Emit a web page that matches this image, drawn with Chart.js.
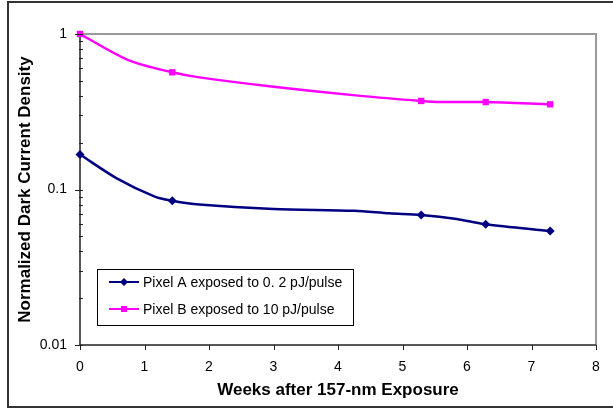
<!DOCTYPE html>
<html>
<head>
<meta charset="utf-8">
<script src="https://cdn.jsdelivr.net/npm/chart.js@4/dist/chart.umd.min.js"></script>
<style>
  html, body { margin: 0; padding: 0; background: #fff; }
  #wrap { width: 613px; height: 409px; }
</style>
</head>
<body>
<div id="wrap"><canvas id="grafico" width="613" height="409"></canvas></div>
<script>
// Dados (semanas x densidade normalizada)
const semanasA = [0, 0.57, 1.16, 1.43, 1.85, 3.0, 4.25, 4.8, 5.29, 5.84, 6.29, 7.29];
const pixelA   = [0.168, 0.118, 0.090, 0.0847, 0.080, 0.075, 0.073, 0.0703, 0.0686, 0.0646, 0.0597, 0.054];
const marcasA  = [0, 3, 8, 10, 11];

const semanasB = [0, 0.75, 1.43, 1.85, 3.0, 4.35, 5.29, 5.6, 6.29, 7.29];
const pixelB   = [1.0, 0.68, 0.567, 0.526, 0.458, 0.40, 0.371, 0.365, 0.365, 0.353];
const marcasB  = [0, 2, 6, 8, 9];

const labelA = 'Pixel A exposed to 0. 2 pJ/pulse';
const labelB = 'Pixel B exposed to 10 pJ/pulse';
const xTicks = [0, 1, 2, 3, 4, 5, 6, 7, 8];
const yTicks = [0.01, 0.1, 1];

const fonte = 'Arial, "Liberation Sans", sans-serif';

function pontos(xs, ys) { return xs.map((x, i) => ({ x: x, y: ys[i] })); }
function raios(n, marcas, r) { return Array.from({ length: n }, (_, i) => marcas.includes(i) ? r : 0); }

// moldura, borda da área do gráfico, ticks menores e legenda
const extras = {
    id: 'extras',
    beforeDraw(chart) {
        const ctx = chart.ctx, a = chart.chartArea;
        ctx.save();
        ctx.strokeStyle = '#9a9a9a';
        ctx.lineWidth = 2;
        ctx.beginPath();
        ctx.moveTo(a.left, a.top); ctx.lineTo(a.right, a.top); ctx.lineTo(a.right, a.bottom);
        ctx.stroke();
        // eixos
        ctx.strokeStyle = '#222';
        ctx.lineWidth = 1.5;
        ctx.beginPath();
        ctx.moveTo(a.left, a.top); ctx.lineTo(a.left, a.bottom); ctx.lineTo(a.right, a.bottom);
        ctx.stroke();
        ctx.restore();
    },
    afterDraw(chart) {
        const ctx = chart.ctx, a = chart.chartArea, y = chart.scales.y, x = chart.scales.x;
        ctx.save();
        // moldura externa
        ctx.strokeStyle = '#333';
        ctx.lineWidth = 2;
        ctx.strokeRect(8, 2, 620, 405);
        ctx.strokeStyle = '#222';
        ctx.lineWidth = 1;
        ctx.beginPath();
        [0.01, 0.1].forEach(dec => {
            for (let m = 2; m <= 9; m++) {
                const py = Math.round(y.getPixelForValue(dec * m)) + 0.5;
                ctx.moveTo(a.left - 1, py); ctx.lineTo(a.left + 3, py);
            }
        });
        yTicks.forEach(v => {
            const py = Math.round(y.getPixelForValue(v)) + 0.5;
            ctx.moveTo(a.left - 5, py); ctx.lineTo(a.left + 3, py);
        });
        xTicks.forEach(v => {
            const px = Math.round(x.getPixelForValue(v)) + 0.5;
            ctx.moveTo(px, a.bottom); ctx.lineTo(px, a.bottom + 5);
        });
        ctx.stroke();
        // legenda
        ctx.fillStyle = '#fff';
        ctx.fillRect(97.5, 269.5, 256, 56);
        ctx.strokeStyle = '#000';
        ctx.strokeRect(97.5, 269.5, 256, 56);
        ctx.font = '14px ' + fonte;
        ctx.textBaseline = 'middle';
        chart.data.datasets.forEach((ds, i) => {
            const ly = 282 + i * 27;
            ctx.strokeStyle = ds.borderColor;
            ctx.lineWidth = 2;
            ctx.beginPath(); ctx.moveTo(109, ly); ctx.lineTo(139, ly); ctx.stroke();
            ctx.fillStyle = ds.borderColor;
            if (i === 0) {
                ctx.beginPath();
                ctx.moveTo(124, ly - 4); ctx.lineTo(128, ly); ctx.lineTo(124, ly + 4); ctx.lineTo(120, ly);
                ctx.closePath(); ctx.fill();
            } else {
                ctx.fillRect(121, ly - 3, 6, 6);
            }
            ctx.fillStyle = '#000';
            ctx.fillText(ds.label, 143, ly + 1);
        });
        ctx.restore();
    }
};

new Chart(document.getElementById('grafico').getContext('2d'), {
    type: 'line',
    data: {
        datasets: [
            {
                label: labelA, data: pontos(semanasA, pixelA),
                borderColor: '#000080', backgroundColor: '#000080', borderWidth: 2.5,
                pointStyle: 'rectRot', pointRadius: raios(semanasA.length, marcasA, 4.5),
                pointBorderWidth: 0, tension: 0.3, clip: false
            },
            {
                label: labelB, data: pontos(semanasB, pixelB),
                borderColor: '#ff00ff', backgroundColor: '#ff00ff', borderWidth: 2.5,
                pointStyle: 'rect', pointRadius: raios(semanasB.length, marcasB, 4.5),
                pointBorderWidth: 0, tension: 0.3, clip: false
            }
        ]
    },
    options: {
        responsive: false,
        animation: false,
        layout: { padding: { left: 0, right: 17, top: 34, bottom: 0 } },
        plugins: { legend: { display: false }, tooltip: { enabled: false } },
        scales: {
            x: {
                type: 'linear', min: 0, max: 8,
                afterFit: s => { s.height = 64; },
                afterBuildTicks: s => { s.ticks = xTicks.map(v => ({ value: v })); },
                grid: { display: false },
                border: { display: false },
                ticks: { color: '#000', font: { family: fonte, size: 14 }, padding: 6, maxRotation: 0 },
                title: { display: true, text: 'Weeks after 157-nm Exposure', color: '#000',
                         font: { family: fonte, size: 17, weight: 'bold' }, padding: { top: 0, bottom: 8 } }
            },
            y: {
                type: 'logarithmic', min: 0.01, max: 1,
                afterFit: s => { s.width = 80; },
                afterBuildTicks: s => { s.ticks = yTicks.map(v => ({ value: v })); },
                grid: { display: false },
                border: { display: false },
                ticks: { color: '#000', font: { family: fonte, size: 14 }, padding: 5,
                         callback: v => String(v) },
                title: { display: true, text: 'Normalized Dark Current Density', color: '#000',
                         font: { family: fonte, size: 17, weight: 'bold' }, padding: { top: 15, bottom: 0 } }
            }
        }
    },
    plugins: [extras]
});
</script>
</body>
</html>
